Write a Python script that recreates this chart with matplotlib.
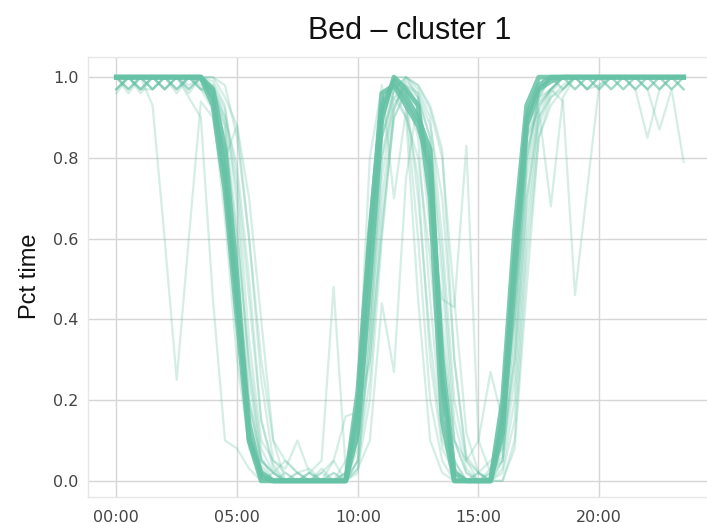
import matplotlib
matplotlib.use("Agg")
import matplotlib.pyplot as plt

# half-hour slots, in hours
hours = [i * 0.5 for i in range(48)]
tick_hours = [0, 5, 10, 15, 20]
tick_labels = ["00:00", "05:00", "10:00", "15:00", "20:00"]
y_ticks = [0.0, 0.2, 0.4, 0.6, 0.8, 1.0]

title = "Bed \u2013 cluster 1"
ylabel = "Pct time"
color = "#66c2a5"

# single days (thin lines)
t01 = [1.00, 0.97, 1.00, 0.93, 0.60, 0.25, 0.60, 0.94,
       0.90, 0.70, 0.42, 0.12, 0.03, 0.00, 0.00, 0.00,
       0.00, 0.00, 0.00, 0.02, 0.15, 0.55, 0.90, 1.00,
       0.98, 0.95, 0.85, 0.50, 0.10, 0.02, 0.00, 0.00,
       0.10, 0.45, 0.85, 0.95, 0.97, 1.00, 0.97, 1.00,
       1.00, 0.97, 1.00, 1.00, 0.97, 1.00, 1.00, 0.97]
t02 = [0.97, 1.00, 0.97, 1.00, 1.00, 0.96, 1.00, 0.98,
       0.93, 0.80, 0.88, 0.60, 0.25, 0.05, 0.02, 0.00,
       0.00, 0.02, 0.00, 0.00, 0.05, 0.40, 0.85, 0.97,
       1.00, 0.97, 0.90, 0.60, 0.20, 0.05, 0.02, 0.00,
       0.05, 0.35, 0.80, 0.95, 1.00, 0.97, 1.00, 0.97,
       0.98, 1.00, 1.00, 0.97, 1.00, 1.00, 0.97, 1.00]
t03 = [1.00, 0.96, 1.00, 1.00, 0.97, 1.00, 0.95, 0.90,
       0.45, 0.10, 0.08, 0.03, 0.00, 0.02, 0.00, 0.00,
       0.02, 0.00, 0.00, 0.00, 0.10, 0.50, 0.85, 0.95,
       0.90, 0.80, 0.55, 0.20, 0.05, 0.00, 0.00, 0.02,
       0.20, 0.60, 0.92, 0.97, 1.00, 1.00, 0.97, 1.00,
       1.00, 1.00, 0.97, 1.00, 1.00, 0.97, 1.00, 1.00]
t04 = [0.96, 1.00, 0.97, 0.97, 1.00, 1.00, 0.98, 1.00,
       0.98, 0.90, 0.72, 0.35, 0.10, 0.05, 0.03, 0.10,
       0.02, 0.05, 0.48, 0.03, 0.10, 0.30, 0.62, 0.90,
       0.96, 0.70, 0.35, 0.10, 0.03, 0.00, 0.02, 0.05,
       0.08, 0.30, 0.70, 0.90, 0.97, 1.00, 1.00, 1.00,
       0.97, 1.00, 1.00, 1.00, 0.97, 1.00, 1.00, 1.00]
t05 = [1.00, 1.00, 0.97, 1.00, 0.97, 1.00, 1.00, 0.97,
       0.97, 0.85, 0.60, 0.30, 0.08, 0.02, 0.00, 0.00,
       0.00, 0.00, 0.02, 0.00, 0.05, 0.35, 0.75, 0.95,
       0.97, 0.90, 0.62, 0.45, 0.43, 0.83, 0.10, 0.02,
       0.05, 0.25, 0.70, 0.92, 0.97, 1.00, 1.00, 0.97,
       1.00, 1.00, 1.00, 1.00, 1.00, 1.00, 0.97, 1.00]
t06 = [0.97, 1.00, 1.00, 0.97, 1.00, 1.00, 0.97, 1.00,
       0.95, 0.80, 0.50, 0.20, 0.05, 0.02, 0.00, 0.00,
       0.00, 0.00, 0.00, 0.02, 0.10, 0.45, 0.85, 0.97,
       1.00, 0.95, 0.70, 0.35, 0.10, 0.02, 0.00, 0.00,
       0.12, 0.50, 0.85, 0.92, 0.68, 0.95, 1.00, 0.97,
       1.00, 1.00, 0.97, 1.00, 1.00, 0.97, 1.00, 1.00]
t07 = [1.00, 0.97, 1.00, 1.00, 0.97, 1.00, 1.00, 1.00,
       0.97, 0.88, 0.62, 0.28, 0.06, 0.00, 0.02, 0.00,
       0.00, 0.00, 0.00, 0.00, 0.08, 0.50, 0.88, 1.00,
       0.97, 0.85, 0.45, 0.12, 0.03, 0.00, 0.00, 0.03,
       0.15, 0.55, 0.88, 0.94, 0.97, 0.94, 0.46, 0.72,
       0.98, 1.00, 1.00, 0.97, 1.00, 1.00, 1.00, 0.97]
t08 = [0.97, 1.00, 1.00, 0.97, 1.00, 0.97, 1.00, 1.00,
       0.96, 0.82, 0.55, 0.20, 0.05, 0.02, 0.05, 0.02,
       0.00, 0.03, 0.00, 0.00, 0.15, 0.58, 0.92, 0.98,
       0.93, 0.60, 0.20, 0.05, 0.00, 0.00, 0.02, 0.00,
       0.10, 0.42, 0.82, 0.93, 0.97, 1.00, 1.00, 0.97,
       1.00, 0.97, 1.00, 0.97, 0.85, 0.97, 1.00, 1.00]
t09 = [1.00, 1.00, 0.96, 1.00, 1.00, 0.97, 1.00, 0.97,
       0.98, 0.92, 0.75, 0.45, 0.15, 0.03, 0.00, 0.00,
       0.02, 0.00, 0.00, 0.02, 0.12, 0.40, 0.80, 0.93,
       0.98, 0.96, 0.88, 0.70, 0.30, 0.05, 0.00, 0.00,
       0.03, 0.20, 0.65, 0.90, 0.95, 0.97, 1.00, 1.00,
       0.97, 1.00, 1.00, 1.00, 0.97, 0.87, 0.97, 0.79]
t10 = [1.00, 0.97, 1.00, 0.97, 1.00, 1.00, 0.96, 1.00,
       1.00, 0.98, 0.85, 0.60, 0.30, 0.10, 0.05, 0.02,
       0.03, 0.00, 0.05, 0.16, 0.17, 0.30, 0.70, 0.92,
       1.00, 0.98, 0.92, 0.80, 0.45, 0.12, 0.02, 0.00,
       0.00, 0.10, 0.55, 0.85, 0.93, 0.97, 1.00, 1.00,
       1.00, 0.97, 1.00, 1.00, 0.97, 1.00, 0.97, 1.00]
t11 = [0.97, 1.00, 1.00, 1.00, 0.97, 1.00, 1.00, 0.97,
       0.95, 0.75, 0.40, 0.10, 0.02, 0.00, 0.00, 0.02,
       0.00, 0.00, 0.00, 0.00, 0.03, 0.10, 0.44, 0.27,
       0.75, 0.95, 0.85, 0.55, 0.15, 0.03, 0.00, 0.00,
       0.05, 0.40, 0.80, 0.96, 1.00, 0.97, 1.00, 1.00,
       1.00, 1.00, 0.97, 1.00, 1.00, 1.00, 1.00, 0.97]
t12 = [1.00, 1.00, 1.00, 0.97, 1.00, 1.00, 0.97, 1.00,
       0.97, 0.88, 0.55, 0.18, 0.04, 0.00, 0.00, 0.00,
       0.02, 0.00, 0.00, 0.00, 0.20, 0.80, 0.98, 0.70,
       0.92, 0.75, 0.30, 0.08, 0.02, 0.00, 0.00, 0.00,
       0.08, 0.52, 0.90, 0.97, 1.00, 1.00, 0.97, 1.00,
       1.00, 1.00, 1.00, 0.97, 1.00, 1.00, 1.00, 1.00]
t13 = [1.00, 0.97, 1.00, 1.00, 1.00, 0.97, 1.00, 1.00,
       1.00, 0.95, 0.88, 0.70, 0.40, 0.10, 0.00, 0.02,
       0.00, 0.00, 0.00, 0.00, 0.05, 0.25, 0.65, 0.90,
       0.97, 0.93, 0.80, 0.40, 0.10, 0.05, 0.10, 0.27,
       0.15, 0.40, 0.75, 0.93, 0.97, 1.00, 1.00, 1.00,
       1.00, 1.00, 1.00, 1.00, 1.00, 0.97, 1.00, 1.00]
t14 = [0.97, 1.00, 0.97, 1.00, 1.00, 1.00, 1.00, 0.97,
       0.92, 0.65, 0.30, 0.08, 0.00, 0.00, 0.00, 0.00,
       0.00, 0.02, 0.05, 0.00, 0.02, 0.35, 0.80, 0.97,
       0.90, 0.45, 0.10, 0.02, 0.00, 0.00, 0.00, 0.02,
       0.06, 0.30, 0.78, 0.95, 1.00, 1.00, 1.00, 0.97,
       1.00, 1.00, 1.00, 1.00, 1.00, 1.00, 1.00, 1.00]
t15 = [1.00, 1.00, 1.00, 1.00, 0.97, 1.00, 0.97, 1.00,
       0.99, 0.93, 0.68, 0.25, 0.05, 0.02, 0.00, 0.00,
       0.00, 0.00, 0.00, 0.05, 0.12, 0.45, 0.88, 1.00,
       1.00, 0.98, 0.93, 0.82, 0.30, 0.06, 0.02, 0.00,
       0.02, 0.15, 0.60, 0.88, 0.96, 1.00, 1.00, 1.00,
       0.97, 1.00, 1.00, 1.00, 1.00, 1.00, 1.00, 1.00]
t16 = [1.00, 1.00, 0.97, 1.00, 1.00, 0.97, 1.00, 0.99,
       0.97, 0.90, 0.78, 0.50, 0.15, 0.04, 0.00, 0.00,
       0.00, 0.00, 0.02, 0.00, 0.03, 0.20, 0.60, 0.92,
       0.99, 0.96, 0.75, 0.25, 0.05, 0.00, 0.00, 0.00,
       0.00, 0.08, 0.48, 0.85, 0.95, 0.98, 1.00, 1.00,
       1.00, 1.00, 1.00, 1.00, 1.00, 1.00, 1.00, 1.00]

# representative days (thick lines)
c1 = [1.00, 1.00, 1.00, 1.00, 1.00, 1.00, 1.00, 1.00,
      0.95, 0.76, 0.45, 0.14, 0.01, 0.00, 0.00, 0.00,
      0.00, 0.00, 0.00, 0.00, 0.22, 0.62, 0.93, 0.99,
      0.95, 0.90, 0.82, 0.25, 0.00, 0.00, 0.00, 0.00,
      0.15, 0.55, 0.90, 0.98, 1.00, 1.00, 1.00, 1.00,
      1.00, 1.00, 1.00, 1.00, 1.00, 1.00, 1.00, 1.00]
c2 = [1.00, 1.00, 1.00, 1.00, 1.00, 1.00, 1.00, 1.00,
      0.97, 0.82, 0.50, 0.10, 0.00, 0.00, 0.00, 0.00,
      0.00, 0.00, 0.00, 0.00, 0.12, 0.50, 0.90, 1.00,
      0.97, 0.93, 0.70, 0.15, 0.00, 0.00, 0.00, 0.00,
      0.20, 0.62, 0.93, 1.00, 1.00, 1.00, 1.00, 1.00,
      1.00, 1.00, 1.00, 1.00, 1.00, 1.00, 1.00, 1.00]
c3 = [1.00, 1.00, 1.00, 1.00, 1.00, 1.00, 1.00, 1.00,
      0.93, 0.72, 0.40, 0.10, 0.02, 0.00, 0.00, 0.00,
      0.00, 0.00, 0.00, 0.00, 0.18, 0.60, 0.96, 0.98,
      0.93, 0.88, 0.78, 0.30, 0.02, 0.00, 0.00, 0.00,
      0.12, 0.50, 0.88, 0.97, 0.99, 1.00, 1.00, 1.00,
      1.00, 1.00, 1.00, 1.00, 1.00, 1.00, 1.00, 1.00]

thin_days = [t01, t02, t03, t04, t05, t06, t07, t08,
             t09, t10, t11, t12, t13, t14, t15, t16]
thick_days = [c1, c2, c3]

fig = plt.figure(figsize=(7.07, 5.23), dpi=100)
# axes runs a little past the right edge, like the cropped original
ax = fig.add_axes([88 / 707, 26 / 523, 624 / 707, 440 / 523])

for d in thin_days:
    ax.plot(hours, d, color=color, lw=1.6, alpha=0.28)
for d in thick_days:
    ax.plot(hours, d, color=color, lw=3.5, alpha=0.85, solid_joinstyle="round")

ax.set_xlim(-1.175, 24.675)
ax.set_ylim(-0.04, 1.05)
ax.set_xticks(tick_hours)
ax.set_xticklabels(tick_labels)
ax.set_yticks(y_ticks)
ax.set_yticklabels(["%.1f" % v for v in y_ticks])

ax.grid(True, color="#d6d6d6", lw=1.0)
ax.set_axisbelow(True)
for s in ax.spines.values():
    s.set_color("#e6e6e6")
    s.set_linewidth(1.0)
ax.tick_params(length=0, labelsize=11.5, colors="#444444", pad=7)
ax.tick_params(axis="x", pad=9)

fig.text(410 / 707, 1 - 31 / 523, title, ha="center", va="center",
         fontsize=22, family="Liberation Sans", color="#111111")
fig.text(30 / 707, 1 - 276 / 523, ylabel, ha="center", va="center",
         rotation=90, fontsize=17, family="Liberation Sans", color="#111111")

fig.savefig("out.png", dpi=100)
